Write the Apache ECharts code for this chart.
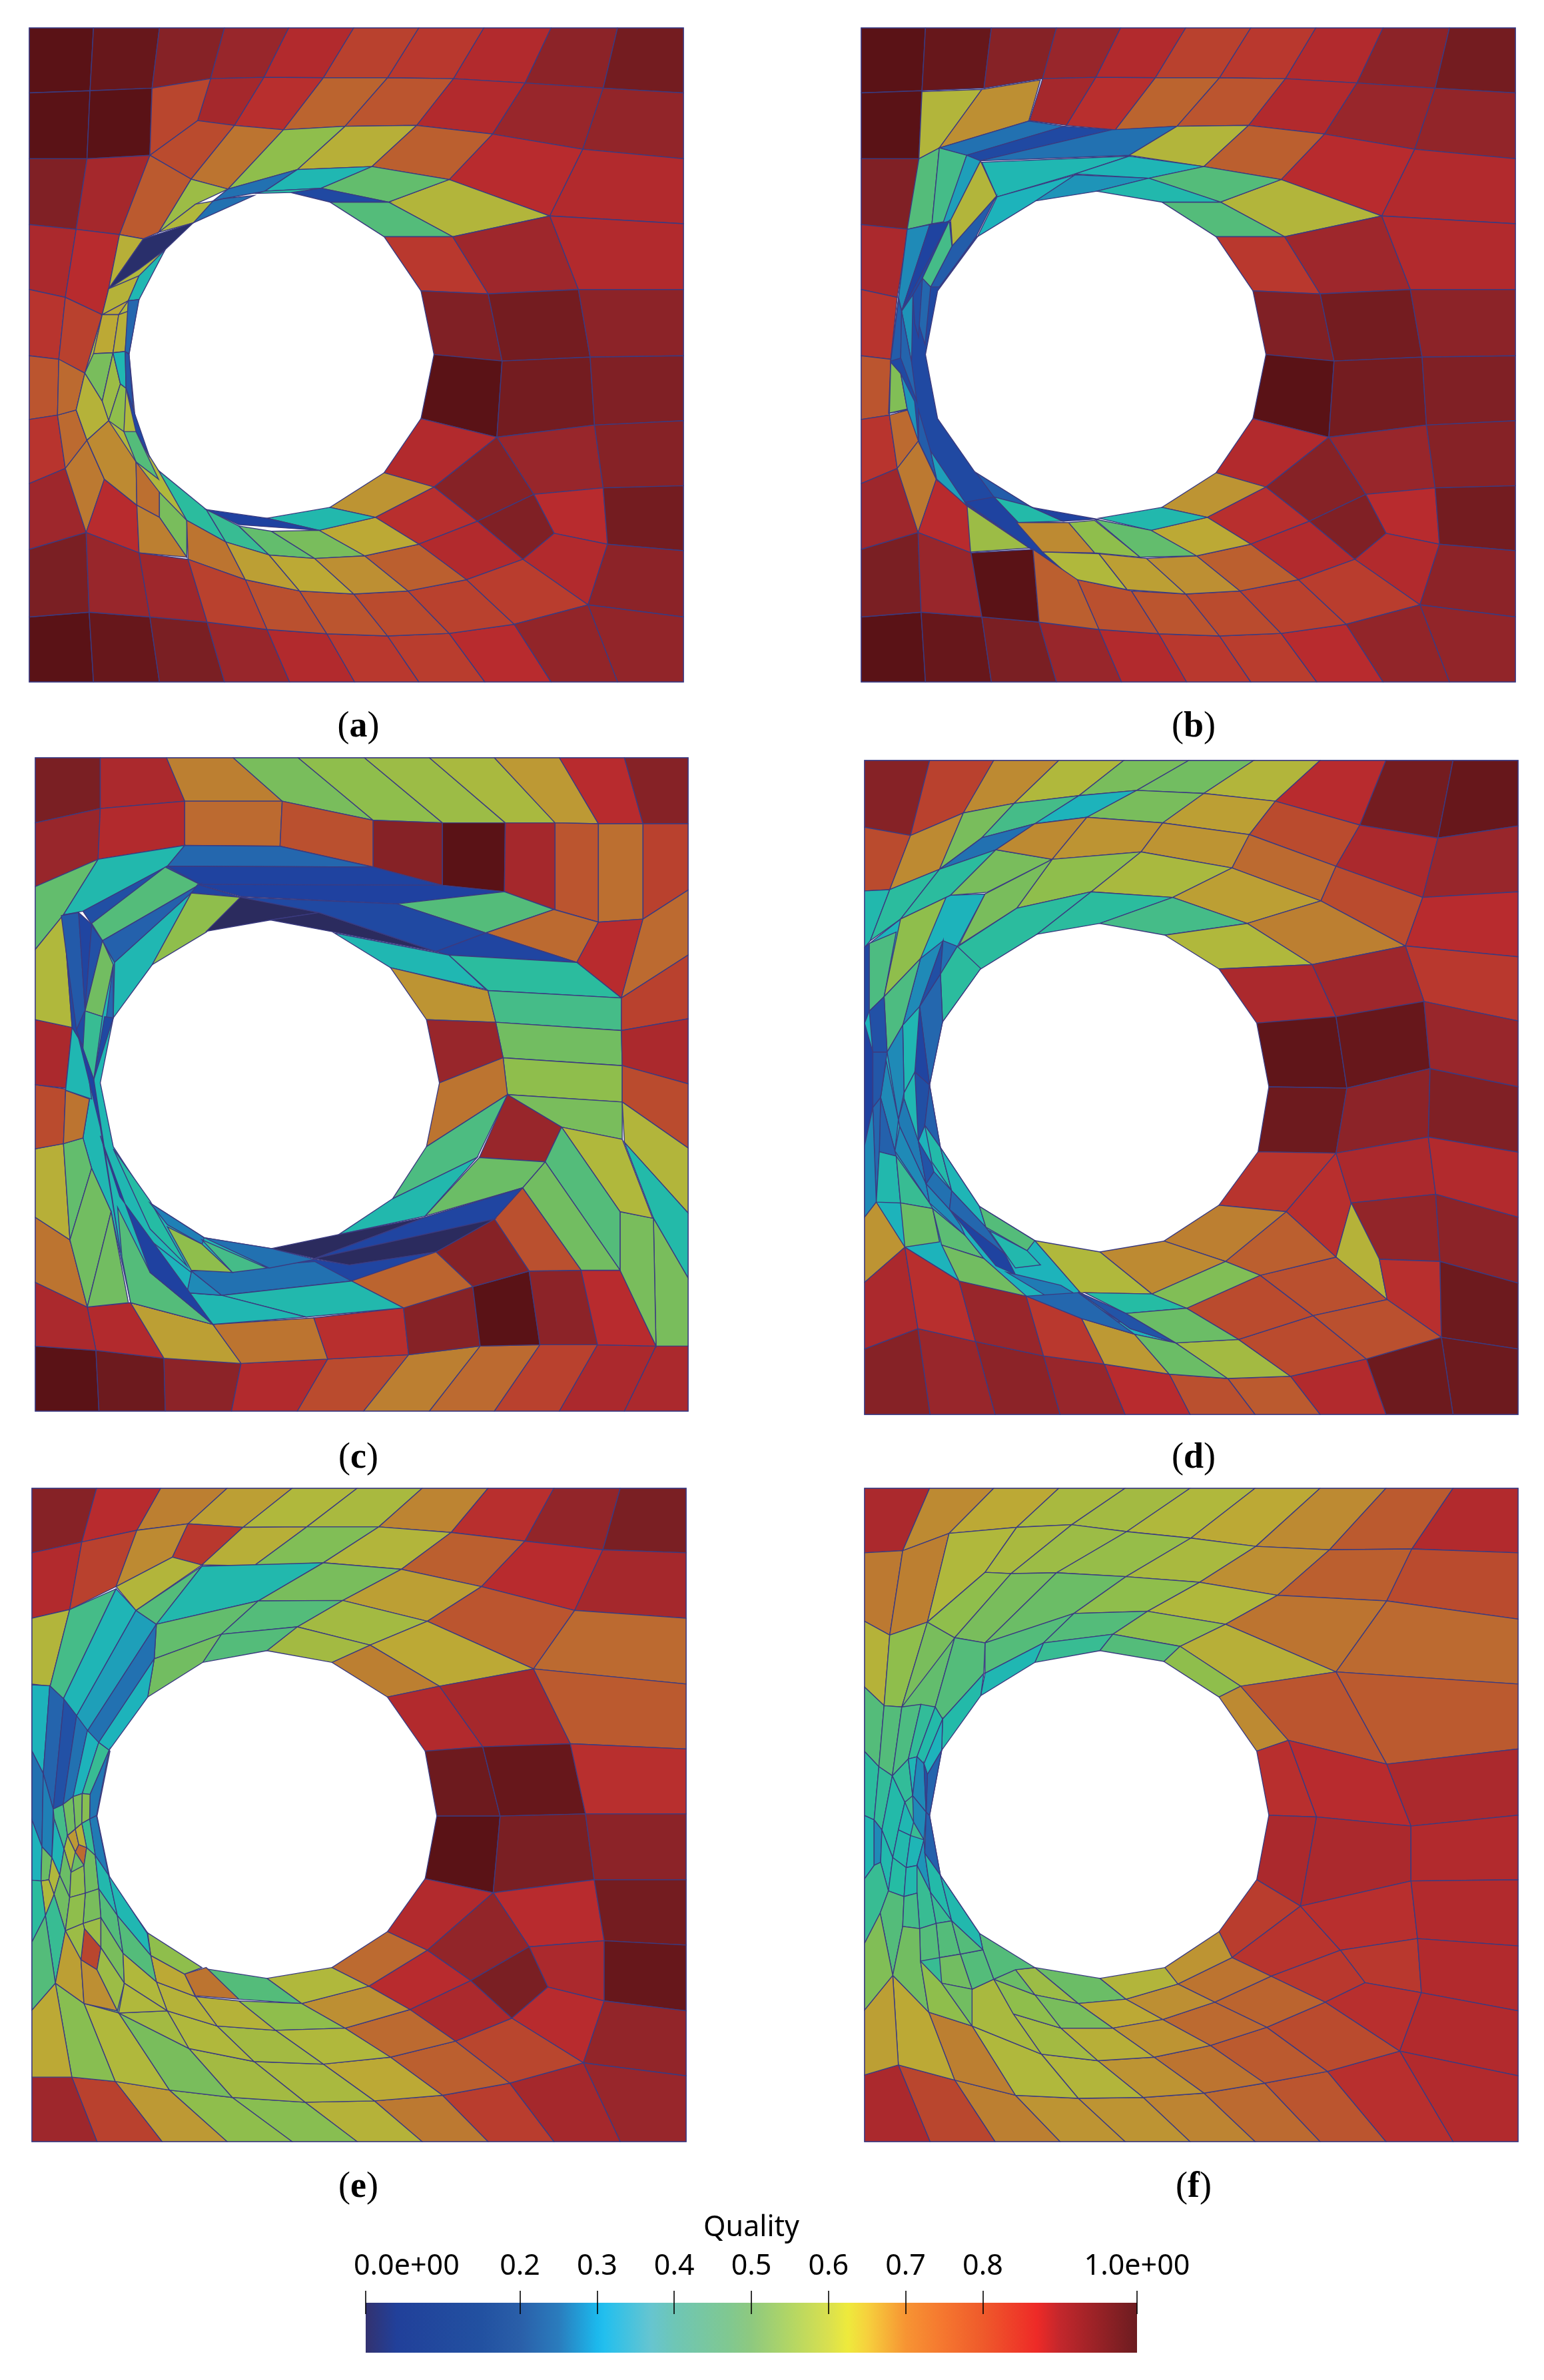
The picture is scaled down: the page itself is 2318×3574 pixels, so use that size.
<!DOCTYPE html>
<html>
<head>
<meta charset="utf-8">
<title>Mesh quality</title>
<script src="https://cdn.jsdelivr.net/npm/echarts@6/dist/echarts.min.js"></script>
<style>
  html, body { margin: 0; padding: 0; background: #fff; }
  #chart { width: 2318px; height: 3574px; }
</style>
</head>
<body>
<div id="chart"></div>
<script>
// mesh data: coordinates are in mesh units, q is the element quality (0..1)
// rows = [polyline, q of the cells between, polyline, q, polyline ...]
// cells = [q, x1, y1, x2, y2, ...]

const sharedRowsAB = [
  [[22,18,170,18,322,18,472,18,620,18,770,18,920,18,1070,18,1225,18,1378,18,1530,18],
   [1,.98,.93,.9,.86,.8,.82,.86,.92,.96],
   [22,168,162,163,305,157,440,135,563,132,700,133,848,133,1000,135,1165,145,1345,157,1530,168]],
  [[440,135,563,132,700,133,848,133,1000,135,1165,145,1345,157,1530,168],
   [.88,.84,.73,.76,.86,.9,.91],
   [410,232,495,243,608,253,750,245,915,243,1090,263,1298,298,1530,320]],
  [[22,1528,170,1528,322,1528,472,1528,622,1528,772,1528,920,1528,1072,1528,1225,1528],
   [1,.98,.95,.9,.86,.82,.81,.85],
   [22,1378,160,1367,300,1378,432,1390,570,1407,708,1417,848,1422,990,1416,1140,1395]],
  [[520,1292,645,1318,770,1325,895,1318,1030,1292],
   [.77,.76,.78,.8],
   [570,1407,708,1417,848,1422,990,1416,1140,1395]]
];

const sharedCellsAB = [
  [.86,915,243,1090,263,990,368,812,338],[.85,1090,263,1298,298,1222,452,990,368],[.86,1298,298,1530,320,1530,470,1222,452],
  [.56,990,368,1222,452,998,500,850,420],[.42,850,420,998,500,840,500,715,420],
  [.82,840,500,998,500,1080,632,925,625],[.89,998,500,1222,452,1288,622,1080,632],[.86,1222,452,1530,470,1530,622,1288,622],
  [.94,925,625,1080,632,1112,787,955,772],[.96,1080,632,1288,622,1315,778,1112,787],[.92,1288,622,1530,622,1530,775,1315,778],
  [1,955,772,1112,787,1100,963,925,920],[.96,1112,787,1315,778,1325,935,1100,963],[.94,1315,778,1530,775,1530,925,1325,935],
  [.86,925,920,1100,963,955,1078,840,1045],[.9,1100,963,1325,935,1345,1080,1185,1095],[.93,1325,935,1530,925,1530,1075,1345,1080],
  [.93,1100,963,1185,1095,1055,1157,955,1078],[.85,1185,1095,1345,1080,1355,1210,1232,1185],[.96,1345,1080,1530,1075,1530,1225,1355,1210],
  [.94,1055,1157,1185,1095,1232,1185,1160,1245],[.86,1232,1185,1355,1210,1310,1350,1160,1245],[.92,1355,1210,1530,1225,1530,1378,1310,1350],
  [.64,840,1045,955,1078,820,1148,715,1125],[.84,955,1078,1055,1157,920,1210,820,1148],[.86,1055,1157,1160,1245,1030,1292,920,1210],
  [.81,1160,1245,1310,1350,1140,1395,1030,1292],[.91,1310,1350,1530,1378,1530,1528,1378,1528],[.91,1140,1395,1310,1350,1378,1528,1225,1528],
  [.74,795,1237,920,1210,1030,1292,895,1318],[.6,690,1178,820,1148,920,1210,795,1237],[.33,570,1150,715,1125,820,1148,690,1178],
  [1,22,168,162,163,155,320,22,320],[.94,22,320,155,320,130,483,22,472],[.87,22,472,130,483,105,640,22,622],
  [.83,22,622,105,640,90,783,22,775],[.76,22,775,90,783,87,912,22,922],[.83,22,922,87,912,105,1035,22,1070],
  [.89,22,1070,105,1035,153,1183,22,1222],[.95,22,1222,153,1183,160,1367,22,1378],
  [.72,87,912,130,900,155,970,105,1035],[.69,105,1035,155,970,195,1060,153,1183],[.85,153,1183,195,1060,270,1120,275,1230],
  [.9,153,1183,275,1230,300,1378,160,1367]
];

const rowsA = [];
const cellsA = [
  [.55,205,620,335,530,275,640,252,772,270,960,320,1040,360,1090,385,1155,322,1148,270,1120,195,1060,155,970,130,900,150,815,190,680],
  [1,162,163,305,157,300,312,155,320],[.79,305,157,440,135,410,232,300,312],
  [.78,410,232,495,243,395,367,300,312],[.7,495,243,608,253,480,390,395,367],[.5,608,253,750,245,640,345,480,390],
  [.58,750,245,915,243,812,338,640,345],[.74,915,243,1090,263,990,368,812,338],
  [.22,445,418,480,390,640,345,565,395,470,412],[.22,400,468,445,418,470,412,540,405],[.32,640,345,812,338,695,388,565,395],
  [.44,812,338,990,368,850,420,695,388],[.1,625,398,695,388,850,420,715,420],[.35,545,400,565,395,695,388,625,398],
  [.52,320,490,395,367,480,390,405,425],[.55,320,490,405,425,445,418,400,468],
  [.88,155,320,300,312,230,495,130,483],[.75,300,312,395,367,320,490,285,505,230,495],
  [.85,130,483,230,495,205,620,190,680,105,640],[.8,105,640,190,680,150,815,90,783],[.72,90,783,150,815,130,900,87,912],
  [.58,230,495,285,505,205,620],[.01,285,505,400,468,335,530,275,575,205,620],
  [.57,205,620,275,590,250,648,190,680],[.32,275,590,335,530,275,645,250,648],
  [.6,190,680,250,648,228,680],[.6,190,680,228,680,215,768,170,770],[.58,228,680,250,672,243,765,215,768],
  [.2,250,648,275,645,252,770,243,765],[.47,170,770,215,768,190,880,150,815],[.52,215,768,232,840,205,925,190,880],
  [.32,215,768,243,765,245,850,232,840],[.15,243,765,252,772,262,900,245,850],[.5,205,925,232,840,245,850,240,950],
  [.1,245,850,262,900,300,1010,268,950],[.42,240,950,268,950,320,1060,268,1020],[.57,130,900,150,815,190,880,205,925,155,970],
  [.66,155,970,205,925,268,1020,270,1120,195,1060],[.71,268,1020,322,1090,322,1148,270,1120],
  [.47,322,1090,385,1155,385,1240,322,1148],[.68,270,1120,322,1148,385,1240,275,1230],
  [.36,320,1040,430,1130,475,1205,385,1155],[.38,430,1130,505,1168,575,1235,475,1205],
  [.44,505,1168,580,1180,680,1243,575,1235],[.47,580,1180,690,1178,795,1237,680,1243],[.06,430,1130,570,1150,690,1178,505,1165],
  [.7,388,1245,385,1155,475,1205,520,1292],[.62,475,1205,575,1235,645,1318,520,1292],[.6,575,1235,680,1243,770,1325,645,1318],
  [.65,680,1243,795,1237,895,1318,770,1325],[.89,275,1230,388,1245,432,1390,300,1378],[.8,388,1245,520,1292,570,1407,432,1390]
];

const rowsB = [];
const cellsB = [
  [.1,128,483,180,472,225,465,290,500,198,625,170,772,198,920,285,1045,415,1125,510,1285,418,1222,265,1120,195,1060,155,975,130,900,85,908,90,785,108,640],
  [.56,162,165,300,160,202,295,155,320],[.65,300,160,435,138,408,233,202,295],
  [.22,202,295,408,233,490,245,265,312],[.1,265,312,490,245,600,253,295,325],[.22,295,325,600,253,750,245,640,312],
  [.56,640,312,750,245,915,243,812,338],[.74,915,243,1090,263,990,368,812,338],
  [.32,300,328,640,314,515,355,335,408],[.31,515,355,640,314,812,338,685,365],[.27,420,418,515,357,685,365,565,395],
  [.3,335,408,515,357,420,420,290,500],[.42,685,365,812,338,990,368,850,420],[.33,565,395,685,365,850,420,715,420],
  [.42,155,320,202,295,185,470,128,483],[.4,202,295,265,312,215,465,185,470],[.28,265,312,297,325,228,462,210,470],
  [.56,297,325,335,408,232,522,228,462],[.17,231,522,333,407,287,499,202,616,182,616],
  [.26,128,483,180,472,115,672,108,640],[.07,180,472,225,465,115,672],[.4,225,463,231,522,182,616,163,596],
  [.2,163,596,182,616,169,749,154,700],[.12,141,634,163,596,154,731,145,700],[.27,115,672,141,634,138,790],
  [.17,108,645,115,672,113,780,90,787],[.19,115,672,138,790,150,880,113,780],[.48,90,790,113,816,128,898,87,907],
  [.27,113,816,145,880,154,972,128,898],[.17,154,900,182,995,196,1060,154,972],[.28,182,995,261,1113,266,1122,196,1060],
  [.17,287,1045,415,1125,328,1101],[.34,328,1101,410,1122,487,1157,379,1160],[.07,415,1125,565,1152,487,1157],
  [.52,266,1122,410,1219,274,1228],[.07,261,1113,328,1101,502,1284,410,1219],
  [.66,380,1160,500,1160,560,1230,440,1228],[.5,500,1160,560,1155,665,1240,560,1230],
  [.44,560,1152,690,1178,795,1237,665,1240],[.55,440,1228,570,1232,635,1315,510,1290],[.62,570,1232,680,1243,770,1325,635,1315],
  [.65,680,1243,795,1237,895,1318,770,1325],
  [1,275,1230,418,1222,432,1390,300,1378],[.74,418,1222,520,1292,570,1407,432,1390]
];

const rowsC = [
  [[35,28,185,28,338,28,492,28,642,28,795,28,945,28,1095,28,1245,28,1395,28,1542,28],
   [.95,.87,.68,.47,.5,.52,.54,.63,.85,.93],
   [35,178,185,145,380,128,605,128,815,172,975,178,1120,178,1235,178,1335,180,1438,180,1542,180],
   [.9,.86,.72,.77,.93,1,.88,.76,.71,.8],
   [35,325,180,262,380,230,600,232,815,280,975,322,1118,337,1235,378,1335,407,1438,400,1542,333]],
  [[35,1535,182,1535,335,1535,488,1535,640,1535,793,1535,945,1535,1095,1535,1245,1535,1395,1535,1542,1535],
   [1,.97,.92,.86,.78,.68,.72,.8,.87,.87],
   [35,1385,175,1395,332,1413,510,1425,710,1415,897,1405,1062,1385,1200,1382,1333,1382,1468,1385,1542,1385]],
  [[155,1295,255,1285,445,1335,678,1320,885,1297,1045,1248,1175,1212,1295,1210,1385,1210],
   [.86,.62,.7,.84,.93,1,.92,.85],
   [175,1395,332,1413,510,1425,710,1415,897,1405,1062,1385,1200,1382,1333,1382,1468,1385]]
];
const cellsC = [
  [.32,100,390,165,412,218,500,215,628,185,778,215,925,300,1055,425,1135,580,1160,680,1190,470,1215,395,1212,445,1335,255,1285,210,1075,165,975,145,905,160,815,105,795,130,655],
  [.44,35,325,180,262,100,390,35,470],[.33,180,262,380,230,340,278,145,382,100,390],[.2,380,230,600,232,815,280,340,278],
  [.07,340,278,815,280,972,322,410,320],[.06,410,320,972,322,1118,337,870,365,510,348],[.42,870,365,1118,337,1232,378,1075,432],
  [.72,1075,432,1232,378,1335,407,1285,500],[.85,1285,500,1335,407,1438,400,1388,582],[.72,1388,582,1438,400,1542,333,1542,483],
  [.12,145,382,340,278,415,320,165,412],[.42,165,410,335,280,415,320,190,450],[.18,190,450,415,320,395,340,218,500],
  [.32,218,500,395,340,305,505,215,628],[.08,410,320,510,350,395,340],[.5,305,505,395,340,510,350,430,430],[0,430,428,510,348,690,385,578,402],
  [0,578,402,690,385,960,475,725,430],[.1,510,350,870,365,1075,432,960,475,690,385],[.08,960,475,1075,432,1285,500,990,483],
  [.32,725,432,990,483,1075,562,855,512],[.36,990,483,1285,500,1388,582,1080,565],[.64,855,512,1080,565,1098,638,938,632],
  [.4,1080,565,1388,582,1388,657,1098,638],[.46,1098,638,1388,657,1390,738,1115,720],[.5,1115,720,1390,738,1390,822,1125,805],
  [.47,1125,805,1390,822,1390,908,1250,880],[.9,938,632,1098,638,1115,720,968,778],[.7,968,778,1115,720,1125,805,938,925],
  [.41,938,925,1125,805,1055,950,860,1045],[.9,1125,805,1250,880,1212,960,1060,950],
  [.8,1388,582,1542,483,1542,630,1388,657],[.87,1388,657,1542,630,1542,780,1390,738],[.78,1390,738,1542,780,1542,928,1390,822],
  [.56,1390,822,1542,928,1542,1078,1395,915],[.34,1395,915,1542,1078,1542,1228,1462,1090],[.47,1462,1090,1542,1228,1542,1385,1468,1385],
  [.47,1385,1075,1462,1090,1468,1385,1385,1210],[.55,1250,880,1390,908,1460,1090,1385,1075],
  [.42,1250,880,1385,1075,1385,1210,1212,960],[.46,1212,960,1385,1210,1295,1210,1160,1020],
  [.77,1160,1020,1295,1210,1175,1212,1095,1092],[.93,1095,1092,1175,1212,1045,1248,960,1168],
  [.45,1060,950,1212,960,1160,1020,935,1085],[.33,860,1045,1055,950,935,1085,735,1128],
  [0,580,1160,735,1128,935,1088,680,1183],[.08,680,1183,935,1088,1160,1020,1095,1092],[0,680,1183,1095,1092,960,1168,760,1198],
  [.08,470,1215,680,1185,760,1198,960,1168,765,1235],[.73,765,1235,960,1168,1045,1248,885,1297],[.22,395,1212,680,1190,765,1235,465,1268],
  [.33,465,1268,765,1235,885,1297,660,1318],[.32,385,1262,465,1268,660,1318,445,1335],[.26,395,1212,465,1268,385,1262],
  [.87,35,1238,155,1295,175,1395,35,1385],[.7,35,1088,115,1140,155,1295,35,1238],[.58,35,930,100,918,115,1140,35,1088],
  [.44,100,918,145,905,165,975,115,1140],[.46,115,1140,165,975,210,1075,155,1295],[.78,35,782,105,792,100,918,35,930],
  [.7,105,795,160,815,145,905,100,918],[.87,35,632,120,650,105,790,35,782],[.32,120,650,150,700,165,815,105,795],
  [.55,35,470,100,390,120,650,35,632],[.1,100,390,135,385,150,610,170,770,150,700,120,650],[.16,95,392,135,385,150,610,130,655],[.08,135,385,165,412,150,610],[.13,165,415,190,450,150,610],
  [.46,190,450,215,505,190,625,150,612],[.2,215,505,215,628,195,658],[.38,150,612,190,625,170,770,145,700],[.1,195,625,215,628,170,770],
  [.06,130,655,170,770,232,1170,185,880],[.46,155,1295,210,1075,250,1285],[.42,225,1065,300,1215,445,1335,255,1285,235,1180],
  [.3,305,1145,395,1215,385,1262,445,1335,300,1215],[.35,215,930,300,1050,385,1200,300,1115],[.06,185,900,230,1040,445,1335,300,1215],
  [.25,300,1055,425,1135,420,1150,340,1105],[.5,340,1110,420,1150,490,1215,395,1210],[.4,420,1140,570,1205,490,1215],
  [.22,425,1135,580,1160,680,1185,575,1205]
];

const rowsD = [
  [[27,34,177,34,325,34,475,34,625,34,775,34,925,34,1078,34,1230,34,1385,34,1535,34],
   [.93,.8,.66,.55,.47,.46,.56,.85,.96,.98],
   [27,188,133,207,255,155,372,133,522,115,655,103,810,110,975,128,1170,183,1350,213,1535,185],
   [.78,.66,.47,.4,.3,.47,.62,.78,.87,.9],
   [27,335,85,332,200,285,298,212,420,180,540,165,715,178,915,205,1115,278,1315,350,1535,337]]
];
const cellsD = [
  [.3,27,465,110,400,225,345,305,342,240,465,295,514,207,637,177,783,202,927,292,1063,420,1142,525,1262,640,1345,745,1378,650,1358,528,1322,400,1270,245,1235,120,1157,27,1088],
  [.33,27,335,85,332,40,450,27,465],[.36,85,332,200,285,110,400,40,450],[.22,200,285,298,212,420,180,330,240],[.36,200,285,330,240,225,345,110,400],
  [.47,225,345,330,240,460,262,310,338],[.66,330,240,420,180,540,165,460,262],[.64,540,165,715,178,665,245,460,262],[.64,715,178,915,205,875,282,665,245],
  [.72,915,205,1115,278,1080,358,875,282],[.78,1115,278,1315,350,1275,462,1080,358],[.85,1315,350,1535,337,1535,487,1275,462],
  [.5,460,262,665,245,550,337,378,375],[.54,665,245,875,282,738,350,550,337],[.62,875,282,1080,358,910,410,738,350],[.68,1080,358,1275,462,1060,505,910,410],
  [.82,1275,462,1535,487,1535,635,1318,590],[.47,305,342,460,262,378,375,245,460],[.36,378,375,550,337,425,435,295,515,240,465],
  [.36,550,337,738,350,570,410,425,435],[.4,738,350,910,410,720,437,570,410],[.55,720,437,910,410,1060,505,845,515],
  [.87,845,515,1060,505,1115,625,932,640],[.89,1060,505,1275,462,1318,590,1115,625],[.99,932,640,1115,625,1140,790,960,787],
  [.98,1115,625,1318,590,1332,745,1140,790],[.9,1318,590,1535,635,1535,787,1332,745],[.97,960,787,1140,790,1115,940,935,937],
  [.92,1140,790,1332,745,1328,903,1115,940],[.94,1332,745,1535,787,1535,938,1328,903],[.83,935,937,1115,940,1000,1075,845,1060],
  [.84,1115,940,1150,1055,1115,1180,1000,1075],[.87,1115,940,1328,903,1345,1035,1150,1055],[.86,1328,903,1535,938,1535,1088,1345,1035],
  [.91,1150,1055,1345,1035,1355,1190,1215,1185],[.92,1345,1035,1535,1088,1535,1240,1355,1190],[.57,1150,1055,1215,1185,1233,1278,1115,1180],
  [.84,1215,1185,1355,1190,1358,1365,1233,1278],[.97,1355,1190,1535,1240,1535,1392,1358,1365],[.97,1358,1365,1535,1392,1535,1543,1385,1543],
  [.97,1185,1415,1358,1365,1385,1543,1230,1543],[.86,1010,1455,1185,1415,1230,1543,1078,1543],[.75,865,1460,1010,1455,1078,1543,928,1543],
  [.77,730,1450,865,1460,928,1543,778,1543],[.85,580,1427,730,1450,778,1543,628,1543],[.9,440,1408,580,1427,628,1543,478,1543],
  [.92,283,1375,440,1408,478,1543,328,1543],[.9,150,1345,283,1375,328,1543,178,1543],[.93,27,1392,150,1345,178,1543,27,1543],
  [.87,27,1238,120,1157,150,1345,27,1392],[.84,120,1157,245,1235,283,1375,150,1345],[.9,245,1235,400,1270,440,1408,283,1375],
  [.82,400,1270,528,1322,580,1427,440,1408],[.63,528,1322,650,1358,730,1450,580,1427],[.45,650,1358,745,1378,865,1460,730,1450],
  [.53,745,1378,890,1370,1010,1455,865,1460],[.78,890,1370,1062,1315,1185,1415,1010,1455],[.78,770,1298,940,1222,1062,1315,890,1370],
  [.77,940,1222,1115,1180,1233,1278,1062,1315],[.77,1062,1315,1233,1278,1358,1365,1185,1415],[.74,860,1190,1000,1075,1115,1180,940,1222],
  [.68,718,1143,845,1060,1000,1075,860,1190],[.66,570,1168,718,1143,860,1190,690,1265],[.48,690,1265,860,1190,940,1222,770,1298],
  [.55,420,1142,570,1168,690,1265,525,1262],[.35,535,1262,690,1265,770,1298,630,1310],[.45,630,1310,770,1298,890,1370,745,1378],
  // left fan
  [.1,27,465,38,456,38,612,27,640],[.41,38,456,100,430,72,579,38,612],[.5,110,400,215,350,156,491,72,579],
  [.26,156,491,208,450,154,602,115,645],[.41,72,579,156,491,115,645,79,707],[.12,208,450,202,527,154,602],
  [.22,208,450,241,463,202,527],[.36,241,463,295,514,207,637,202,527],[.2,202,527,207,637,177,783,154,602],
  [.08,154,602,177,783,143,753],[.13,38,612,72,579,79,707,46,707],[.32,115,645,154,602,143,753,118,801],
  [.26,79,707,115,645,118,801,105,863],[.26,77,727,105,863,97,935,64,812],[.15,46,707,79,707,64,812,46,835],
  [.06,27,640,46,707,46,835,27,922],[.18,64,812,97,935,100,947,61,937],[.2,46,835,64,812,61,937,54,1053],
  [.26,27,922,46,835,54,1053,27,1088],[.33,61,937,100,947,110,1055,54,1053],[.64,27,1238,27,1088,54,1053,120,1157],
  [.38,100,947,177,1055,184,1068,110,1055],[.45,110,1055,184,1068,200,1145,120,1157],[.43,184,1068,259,1130,302,1183,205,1152],
  [.26,97,935,108,878,169,1011,177,1055],[.24,105,863,118,814,151,912,169,1011,108,878],[.32,118,801,143,753,166,876,151,912,118,814],
  [.12,143,753,177,783,166,876,151,912],[.18,177,783,202,927,166,876],[.34,166,876,202,927,228,1027,182,960],
  [.31,202,927,292,1063,307,1111,228,1027],[.14,151,912,182,965,187,983,169,1011],[.22,169,1011,187,983,228,1027,223,1070],
  [.26,177,1055,169,1011,223,1070,248,1106,259,1130],[.2,228,1027,307,1111,351,1173,279,1117,223,1070],
  [.07,223,1070,279,1117,351,1173,375,1220,330,1200],[.42,292,1063,420,1142,402,1165,307,1111],[.33,315,1119,402,1165,433,1198,375,1205],
  [.46,205,1152,302,1183,400,1270,245,1235],[.24,355,1215,480,1245,620,1330,530,1320],[.2,400,1270,520,1262,650,1358,528,1322],
  [.14,520,1260,630,1310,745,1378,640,1345]
];

const rowsE = [
  [[28,38,177,38,325,38,478,38,628,38,778,38,928,38,1080,38,1232,38,1385,38,1537,38],
   [.93,.85,.68,.62,.55,.54,.67,.84,.91,.95],
   [28,187,143,162,270,135,388,120,515,128,662,127,828,127,995,140,1165,160,1345,180,1537,187],
   [.86,.8,.66,.82,.58,.48,.56,.74,.85,.88],
   [28,338,115,318,222,265,352,197,420,215,540,217,700,210,880,225,1065,265,1280,320,1537,338]]
];
const cellsE = [
  [.45,28,490,70,495,185,628,208,645,178,795,208,940,295,1065,300,1115,315,1178,228,1250,148,1228,80,1182,28,1243],
  [.56,28,338,115,318,70,495,28,490],[.4,115,318,222,270,100,525,70,495],[.31,222,270,268,320,130,565,100,525],[.28,268,320,315,352,155,600,130,565],
  [.56,222,265,352,197,420,215,268,320],[.42,268,320,420,218,315,352],[.33,315,352,420,218,700,210,550,298],[.47,550,298,700,210,880,225,745,297],
  [.62,745,297,880,225,1065,265,940,345],[.76,940,345,1065,265,1280,320,1185,455],[.72,1185,455,1280,320,1537,338,1537,490],
  [.44,315,352,550,298,465,375,310,432],[.42,465,375,550,298,745,297,640,358],[.53,640,358,745,297,940,345,808,400],[.6,808,400,940,345,1185,455,968,495],
  [.68,720,440,808,400,968,495,848,520],[.53,570,413,640,358,808,400,720,440],[.42,422,440,465,375,640,358,570,413],[.46,295,520,310,432,465,375,422,440],
  [.22,155,600,315,352,310,432,182,625],[.3,182,625,310,432,295,520,206,643],
  [.86,848,520,968,495,1068,635,935,645],[.88,968,495,1185,455,1270,628,1068,635],[.75,1185,455,1537,490,1537,640,1270,628],
  [.97,935,645,1068,635,1108,795,962,795],[.98,1068,635,1270,628,1305,790,1108,795],[.84,1270,628,1537,640,1537,790,1305,790],
  [1,962,795,1108,795,1092,972,935,940],[.95,1108,795,1305,790,1325,942,1092,972],[.92,1305,790,1537,790,1537,942,1325,942],
  [.86,935,940,1092,972,940,1105,848,1062],[.85,1092,972,1325,942,1348,1083,1175,1097],[.96,1325,942,1537,942,1537,1093,1348,1083],
  [.91,1092,972,1175,1097,1040,1175,940,1105],[.87,1175,1097,1348,1083,1348,1222,1218,1190],[.98,1348,1083,1537,1093,1537,1245,1348,1222],
  [.95,1040,1175,1175,1097,1218,1190,1135,1262],[.85,1218,1190,1348,1222,1300,1365,1135,1262],[.91,1348,1222,1537,1245,1537,1395,1300,1365],
  [.9,1300,1365,1537,1395,1537,1547,1385,1547],[.88,1130,1412,1300,1365,1385,1547,1232,1547],[.81,975,1440,1130,1412,1232,1547,1080,1547],
  [.69,818,1453,975,1440,1080,1547,928,1547],[.57,658,1456,818,1453,928,1547,778,1547],[.49,490,1445,658,1456,778,1547,628,1547],
  [.5,345,1428,490,1445,628,1547,478,1547],[.63,220,1408,345,1428,478,1547,328,1547],[.8,120,1398,220,1408,328,1547,178,1547],
  [.89,28,1398,120,1398,178,1547,28,1547],[.79,1005,1315,1135,1262,1300,1365,1130,1412],[.74,855,1352,1005,1315,1130,1412,975,1440],
  [.6,700,1368,855,1352,975,1440,818,1453],[.54,540,1362,700,1368,818,1453,658,1456],[.53,390,1332,540,1362,658,1456,490,1445],
  [.47,228,1250,390,1332,490,1445,345,1428],[.55,148,1228,228,1250,345,1428,220,1408],[.49,82,1181,148,1228,220,1408,120,1398],
  [.6,28,1243,82,1181,120,1398,28,1398],
  [.87,900,1242,1040,1175,1135,1262,1005,1315],[.85,805,1188,940,1105,1040,1175,900,1242],[.72,750,1285,900,1242,1005,1315,855,1352],
  [.65,650,1228,805,1188,900,1242,750,1285],[.72,720,1145,848,1062,940,1105,805,1188],[.55,570,1170,720,1145,805,1188,650,1228],
  [.42,430,1148,570,1170,650,1228,505,1218],[.7,380,1160,430,1145,505,1218,405,1210],[.5,505,1222,650,1228,750,1285,590,1290],
  [.55,590,1290,750,1285,855,1352,700,1368],[.53,455,1280,590,1290,700,1368,540,1362],[.57,405,1212,505,1222,590,1290,455,1280],
  [.55,340,1245,455,1280,540,1362,390,1332],[.57,315,1178,405,1212,455,1280,340,1245],[.6,302,1117,380,1160,405,1212,315,1178],
  [.5,295,1065,420,1145,380,1160,302,1117],[.53,228,1250,340,1245,390,1332],
  // left fan
  [.3,28,492,69,494,54,697,28,645],[.19,69,494,102,525,77,779,54,697],[.13,102,525,131,563,100,768,77,779],
  [.22,131,563,156,597,123,750,100,768],[.3,156,597,182,625,144,743,123,750],[.38,182,625,206,643,162,745,144,743],
  [.23,206,643,177,794,161,802,162,745],[.22,28,645,54,697,51,866,28,804],[.25,54,697,77,779,74,891,51,866],
  [.3,28,804,51,866,49,945,28,943],[.45,51,866,74,891,67,942,49,945],[.31,79,800,102,871,92,932,74,891],
  [.4,77,779,100,768,110,840,102,871,79,800],[.46,100,768,123,750,128,825,110,840],[.47,123,750,144,743,143,812,128,825],
  [.49,144,743,162,745,161,802,143,812],[.24,161,802,177,794,205,932,174,886],[.38,143,812,161,802,174,886,154,868],
  [.63,110,840,128,825,136,861,128,878],[.57,128,825,143,812,154,868,136,861],[.72,128,878,136,861,154,868,148,909],
  [.54,102,871,110,840,128,878,118,925],[.55,74,891,92,932,79,976,67,942],[.55,49,945,67,942,79,976,59,1025],
  [.36,28,943,49,945,59,1025,28,1086],[.45,92,932,102,871,118,925,115,983],[.46,79,976,92,932,115,983,105,1060],
  [.38,59,1025,79,976,105,1060,82,1181],[.42,28,1086,59,1025,82,1181,28,1243],[.5,118,925,148,909,151,973,115,983],
  [.46,148,909,154,868,174,886,182,963,151,973],[.33,174,886,205,932,225,1025,182,963],[.32,205,932,294,1066,302,1117,225,1025],
  [.42,182,963,225,1025,238,1112,187,1030],[.47,151,973,182,963,187,1030,146,1043],[.5,115,983,151,973,146,1043,105,1060],
  [.52,146,1043,187,1030,187,1099,149,1055],[.79,149,1055,187,1099,178,1150,141,1127],[.52,105,1060,146,1043,149,1055,141,1127],
  [.62,82,1181,105,1060,141,1127,148,1228],[.65,141,1127,178,1150,225,1245,148,1228],[.47,187,1030,238,1112,241,1181,187,1099],
  [.52,187,1099,241,1181,225,1245,178,1150],[.42,225,1025,302,1117,315,1178,238,1112],[.55,238,1112,315,1178,340,1245,241,1181],
  [.55,241,1181,340,1245,228,1250]
];

const rowsF = [
  [[27,38,177,38,325,38,475,38,628,38,778,38,928,38,1078,38,1230,38,1385,38,1535,38],
   [.87,.66,.6,.54,.53,.55,.6,.66,.75,.86],
   [27,187,115,182,222,142,378,128,505,122,632,138,780,153,930,172,1100,180,1290,178,1535,187],
   [.69,.68,.55,.54,.52,.51,.54,.65,.74,.78],
   [27,345,85,377,172,347,305,232,365,235,470,233,630,242,800,255,980,285,1232,298,1535,340]]
];
const cellsF = [
  [.38,27,497,72,540,190,545,207,571,205,643,177,794,202,932,292,1066,300,1110,275,1195,275,1280,175,1248,92,1163,27,1243],
  [.57,27,345,85,377,72,540,27,497],[.5,85,377,172,347,113,543,72,540],[.47,172,347,235,383,157,537,113,543],
  [.5,172,347,305,232,365,235,235,383],[.47,235,383,365,235,470,233,305,395],[.45,305,395,470,233,630,242,510,327],
  [.5,510,327,630,242,800,255,680,322],[.55,680,322,800,255,980,285,860,352],[.7,860,352,980,285,1232,298,1115,462],[.72,1115,462,1232,298,1535,340,1535,490],
  [.42,305,395,510,327,440,395,305,465],[.42,510,327,680,322,600,375,440,395],[.5,680,322,860,352,755,403,600,375],[.58,755,403,860,352,1115,462,895,495],
  [.38,440,395,600,375,570,413,420,440],[.32,305,465,440,395,420,440,295,517],[.42,570,413,600,375,755,403,718,438],[.5,718,438,755,403,895,495,845,520],
  [.66,845,520,895,495,1005,620,932,645],[.76,895,495,1115,462,1232,675,1005,620],[.75,1115,462,1535,490,1535,640,1232,675],
  [.84,932,645,1005,620,1070,797,960,793],[.85,1005,620,1232,675,1288,818,1070,797],[.87,1232,675,1535,640,1535,793,1288,818],
  [.87,960,793,1070,797,1033,1003,932,942],[.87,1070,797,1288,818,1288,945,1033,1003],[.86,1288,818,1535,793,1535,942,1288,945],
  [.81,932,942,1033,1003,875,1122,845,1062],[.83,1033,1003,1125,1105,965,1165,875,1122],[.84,1033,1003,1288,945,1303,1078,1125,1105],
  [.86,1288,945,1535,942,1535,1095,1303,1078],[.82,1125,1105,1303,1078,1312,1203,1182,1180],[.86,1303,1078,1535,1095,1535,1245,1312,1203],
  [.82,965,1165,1125,1105,1182,1180,1090,1225],[.84,1182,1180,1312,1203,1262,1338,1090,1225],[.86,1312,1203,1535,1245,1535,1395,1262,1338],
  [.86,1262,1338,1535,1395,1535,1547,1385,1547],[.84,1095,1385,1262,1338,1385,1547,1230,1547],[.76,950,1412,1095,1385,1230,1547,1078,1547],
  [.72,810,1435,950,1412,1078,1547,928,1547],[.67,670,1445,810,1435,928,1547,778,1547],[.64,520,1447,670,1445,778,1547,628,1547],
  [.64,375,1440,520,1447,628,1547,478,1547],[.68,235,1405,375,1440,478,1547,328,1547],[.79,105,1370,235,1405,328,1547,178,1547],
  [.87,27,1393,105,1370,178,1547,27,1547],[.78,955,1283,1090,1225,1262,1338,1095,1385],[.75,825,1325,955,1283,1095,1385,950,1412],
  [.7,695,1352,825,1325,950,1412,810,1435],[.64,565,1360,695,1352,810,1435,670,1445],[.56,435,1345,565,1360,670,1445,520,1447],
  [.55,275,1280,435,1345,520,1447,375,1440],[.68,175,1248,275,1280,375,1440,235,1405],[.6,92,1163,175,1248,235,1405,105,1370],
  [.62,27,1243,92,1163,105,1370,27,1393],[.73,835,1225,965,1165,1090,1225,955,1283],
  [.72,715,1265,835,1225,955,1283,825,1325],[.7,750,1183,875,1122,965,1165,835,1225],[.65,630,1218,750,1183,835,1225,715,1265],
  [.64,720,1145,845,1062,875,1122,750,1183],[.56,570,1170,720,1145,750,1183,630,1218],[.45,420,1145,570,1170,630,1218,520,1228],
  [.52,375,1150,420,1145,520,1228,420,1208],[.6,520,1228,630,1218,715,1265,600,1285],[.64,600,1285,715,1265,825,1325,695,1352],
  [.58,480,1285,600,1285,695,1352,565,1360],[.47,420,1208,520,1228,600,1285,480,1285],[.53,370,1252,480,1285,565,1360,435,1345],
  [.5,325,1172,420,1208,480,1285,370,1252],[.45,325,1172,375,1150,420,1208],[.42,292,1066,420,1145,375,1150,325,1172,300,1104],
  [.54,275,1195,325,1172,370,1252,435,1345,275,1280],[.42,248,1114,300,1104,325,1172,275,1195],
  // left fan
  [.44,113,543,235,383,190,543],[.42,235,383,305,395,302,466,207,571,190,543],[.34,302,466,295,517,205,643,207,571],
  [.42,27,497,72,540,60,681,27,646],[.42,72,540,113,543,91,702,60,681],[.41,113,543,157,537,128,663,91,702],
  [.37,157,537,190,543,148,658,128,663],[.34,190,543,207,571,164,674,148,658],[.3,207,571,205,643,172,699,164,674],
  [.19,205,643,177,794,169,786,172,699],[.36,27,646,60,681,49,804,27,794],[.37,60,681,91,702,67,827,49,804],
  [.34,91,702,120,763,105,827,92,891,67,827],[.37,91,702,128,663,138,748,120,763],[.31,128,663,148,658,138,748],
  [.26,148,658,164,674,169,786,138,748],[.13,164,674,172,699,169,786],[.26,138,748,169,786,164,850,140,809],
  [.32,120,763,140,809,133,840,105,827],[.18,169,786,177,794,202,932,166,881],[.32,27,794,49,804,49,909,27,940],
  [.26,49,804,67,827,64,902,49,909],[.33,67,827,92,891,82,968,64,902],[.33,105,827,133,840,123,914,92,891],
  [.31,133,840,164,850,148,909,123,914],[.27,164,850,166,881,179,971,148,909],[.34,166,881,202,932,228,1037,179,971],
  [.33,202,932,292,1066,300,1104,228,1037],[.38,27,940,49,909,64,902,82,968,63,1019,27,1089],[.35,92,891,123,914,118,981,82,968],
  [.33,123,914,148,909,148,973,118,981],[.38,148,909,179,971,192,1043,154,1055,148,973],[.38,179,971,228,1037,192,1043],
  [.42,82,968,118,981,115,1050,92,1163,63,1019],[.4,118,981,148,973,154,1055,115,1050],[.42,192,1043,228,1037,248,1114,200,1122],
  [.42,154,1055,192,1043,200,1122,156,1130],[.46,115,1050,154,1055,156,1130,175,1248,92,1163],[.48,27,1089,63,1019,92,1163,27,1243],
  [.42,228,1037,300,1104,248,1114],[.46,200,1122,248,1114,275,1195,205,1181],[.5,156,1130,205,1181,275,1280,175,1248],[.46,205,1181,275,1195,275,1280]
];

const qualityTicks = [0, 0.2, 0.3, 0.4, 0.5, 0.6, 0.7, 0.8, 1];
const qualityLabelAt = [0.053, 0.2, 0.3, 0.4, 0.5, 0.6, 0.7, 0.8, 1];
const qualityLabels = ['0.0e+00', '0.2', '0.3', '0.4', '0.5', '0.6', '0.7', '0.8', '1.0e+00'];
// colours of the shaded mesh, evenly spaced over 0..1
const meshColors = ['#2b2b5e','#1f3f9f','#2049a2','#2357a8','#2467ae','#1f80b6','#1db3bb','#25bca4','#45bc88','#6bbd66',
  '#8fbe4c','#b0b83c','#bca935','#bd8f33','#bc7430','#bb5a2f','#b9412e','#b82b2e','#98262b','#7a1f23','#5a1216'];
const barStops = [[0,'#333270'],[.04,'#21409a'],[.15,'#2251a1'],[.2,'#2a5fa9'],[.25,'#2a7cbd'],[.3,'#1cb8ec'],[.31,'#23bfee'],
  [.37,'#66c5d0'],[.4,'#6ec6b6'],[.47,'#80c891'],[.5,'#8ec97f'],[.55,'#b2d665'],[.6,'#d9e04f'],[.625,'#eeea3c'],[.65,'#f6d13d'],
  [.7,'#f79433'],[.75,'#f5762f'],[.8,'#ef5a2b'],[.87,'#ee2a27'],[.9,'#c3272c'],[1,'#6c1c20']];

function rowsToCells(rows) {
  const out = [];
  rows.forEach(chain => {
    for (let i = 1; i < chain.length; i += 2) {
      const top = chain[i - 1], qs = chain[i], bot = chain[i + 1];
      qs.forEach((q, j) => {
        out.push([q, top[2*j], top[2*j+1], top[2*j+2], top[2*j+3], bot[2*j+2], bot[2*j+3], bot[2*j], bot[2*j+1]]);
      });
    }
  });
  return out;
}

const panels = [
  { name: 'a', x: [22, 1530], y: [18, 1528], grid: [44, 42, 982, 982], cap: [533, 1060],
    cells: rowsToCells(sharedRowsAB).concat(rowsToCells(rowsA), sharedCellsAB, cellsA) },
  { name: 'b', x: [22, 1530], y: [18, 1528], grid: [1293, 42, 982, 982], cap: [1787, 1060],
    cells: rowsToCells(sharedRowsAB).concat(rowsToCells(rowsB), sharedCellsAB, cellsB) },
  { name: 'c', x: [35, 1542], y: [28, 1535], grid: [53, 1138, 980, 981], cap: [533, 2158],
    cells: rowsToCells(rowsC).concat(cellsC) },
  { name: 'd', x: [27, 1535], y: [34, 1543], grid: [1298, 1142, 981, 982], cap: [1787, 2158],
    cells: rowsToCells(rowsD).concat(cellsD) },
  { name: 'e', x: [28, 1537], y: [38, 1547], grid: [48, 2235, 982, 981], cap: [533, 3253],
    cells: rowsToCells(rowsE).concat(cellsE) },
  { name: 'f', x: [27, 1535], y: [38, 1547], grid: [1298, 2235, 981, 981], cap: [1787, 3253],
    cells: rowsToCells(rowsF).concat(cellsF) }
];

function renderCell(cells) {
  return function (params, api) {
    const c = cells[params.dataIndex];
    const points = [];
    for (let i = 1; i < c.length; i += 2) points.push(api.coord([c[i], c[i + 1]]));
    return {
      type: 'polygon',
      shape: { points: points },
      style: { fill: api.visual('color'), stroke: '#3b3b80', lineWidth: 1.4 }
    };
  };
}

const option = {
  backgroundColor: '#fff',
  animation: false,
  title: panels.map(p => ({
    text: '{p|(}{b|' + p.name + '}{p|)}',
    left: p.cap[0],
    top: p.cap[1],
    textAlign: 'center',
    textStyle: { rich: {
      p: { fontFamily: 'Liberation Serif', fontSize: 54, fontWeight: 'normal', color: '#000' },
      b: { fontFamily: 'Liberation Serif', fontSize: 54, fontWeight: 'bold', color: '#000' }
    } }
  })),
  visualMap: {
    show: false,
    type: 'continuous',
    min: 0,
    max: 1,
    dimension: 0,
    seriesIndex: panels.map((p, i) => i),
    inRange: { color: meshColors }
  },
  grid: panels.map(p => ({
    left: p.grid[0], top: p.grid[1], width: p.grid[2], height: p.grid[3],
    show: true, borderColor: '#5050a8', borderWidth: 1.5, backgroundColor: '#fff'
  })).concat([{ left: 549, top: 3440, width: 1158, height: 93 }]),
  xAxis: panels.map((p, i) => ({
    type: 'value', gridIndex: i, min: p.x[0], max: p.x[1], show: false
  })).concat([{
    type: 'value', gridIndex: 6, min: 0, max: 1, position: 'top', z: 5,
    name: 'Quality', nameLocation: 'center', nameGap: 73,
    nameTextStyle: { fontFamily: 'Noto Sans', fontSize: 43, color: '#000' },
    axisLine: { show: false, onZero: false },
    splitLine: { show: false },
    axisTick: { show: true, inside: true, length: 35, customValues: qualityTicks, lineStyle: { color: '#000', width: 1.6 } },
    axisLabel: {
      show: true, margin: 15, customValues: qualityLabelAt, hideOverlap: false,
      fontFamily: 'Noto Sans', fontSize: 43, color: '#000',
      formatter: v => qualityLabels[qualityLabelAt.indexOf(v)]
    }
  }]),
  yAxis: panels.map((p, i) => ({
    type: 'value', gridIndex: i, min: p.y[0], max: p.y[1], inverse: true, show: false
  })).concat([{ type: 'value', gridIndex: 6, min: 0, max: 93, show: false }]),
  series: panels.map((p, i) => ({
    type: 'custom',
    xAxisIndex: i,
    yAxisIndex: i,
    silent: true,
    encode: { x: 1, y: 2 },
    data: p.cells.map(c => [c[0], c[1], c[2]]),
    renderItem: renderCell(p.cells)
  })).concat([{
    type: 'custom',
    xAxisIndex: 6,
    yAxisIndex: 6,
    silent: true,
    encode: { x: 0, y: 1 },
    data: [[0, 0, 1, 75]],
    renderItem: function (params, api) {
      const a = api.coord([api.value(0), api.value(3)]);
      const b = api.coord([api.value(2), api.value(1)]);
      return {
        type: 'rect',
        shape: { x: a[0], y: a[1], width: b[0] - a[0], height: b[1] - a[1] },
        style: { fill: new echarts.graphic.LinearGradient(0, 0, 1, 0, barStops.map(s => ({ offset: s[0], color: s[1] }))) }
      };
    }
  }])
};

const chart = echarts.init(document.getElementById('chart'), null, { renderer: 'canvas' });
chart.setOption(option);
</script>
</body>
</html>
